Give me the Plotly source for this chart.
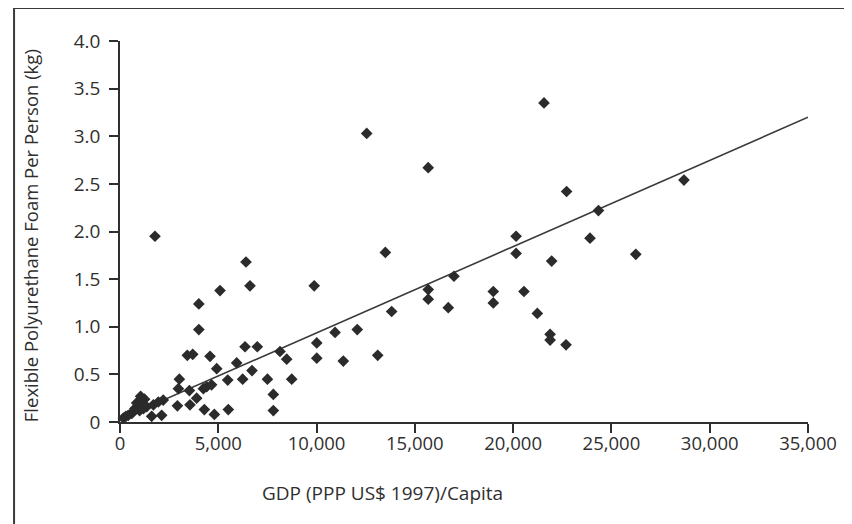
import plotly.graph_objects as go

# GDP per capita (PPP US$ 1997) and flexible PU foam per person (kg)
gdp = [170, 300, 420, 600, 680, 750, 850, 930, 1000, 1050, 1100, 1190, 1250, 1360,
       1610, 1700, 1780, 1950, 2120, 2200,
       2920, 2970, 3020, 3424, 3530, 3560, 3700, 3900, 4010, 4010, 4240, 4290,
       4410, 4580, 4660, 4800, 4920, 5088, 5480, 5510, 5936, 6240, 6360, 6410,
       6613, 6715, 6985, 7500, 7800, 7800, 8140, 8480, 8735, 9880, 10010, 10010,
       10940, 11360, 12070, 12550, 13110, 13500, 13820, 15680, 15680, 15680,
       16700, 16990, 18990, 18990, 20150, 20150, 20550, 21230, 21570, 21880,
       21880, 21960, 22690, 22720, 23910, 24340, 26240, 28690]
foam = [0.04, 0.06, 0.07, 0.09, 0.11, 0.14, 0.20, 0.20, 0.12, 0.27, 0.21, 0.14, 0.24, 0.16,
        0.06, 0.18, 1.95, 0.21, 0.07, 0.23,
        0.17, 0.35, 0.45, 0.70, 0.33, 0.18, 0.71, 0.25, 1.24, 0.97, 0.35, 0.13,
        0.37, 0.69, 0.39, 0.08, 0.56, 1.38, 0.44, 0.13, 0.62, 0.45, 0.79, 1.68,
        1.43, 0.54, 0.79, 0.45, 0.29, 0.12, 0.74, 0.66, 0.45, 1.43, 0.83, 0.67,
        0.94, 0.64, 0.97, 3.03, 0.70, 1.78, 1.16, 2.67, 1.39, 1.29,
        1.20, 1.53, 1.37, 1.25, 1.95, 1.77, 1.37, 1.14, 3.35, 0.92,
        0.86, 1.69, 0.81, 2.42, 1.93, 2.22, 1.76, 2.54]

# Fitted trend line end points
trend_x = [0, 35000]
trend_y = [0.03, 3.20]

x_ticks = [0, 5000, 10000, 15000, 20000, 25000, 30000, 35000]
x_tick_labels = ["0", "5,000", "10,000", "15,000", "20,000", "25,000", "30,000", "35,000"]
y_ticks = [0, 0.5, 1.0, 1.5, 2.0, 2.5, 3.0, 3.5, 4.0]
y_tick_labels = ["0", "0.5", "1.0", "1.5", "2.0", "2.5", "3.0", "3.5", "4.0"]

INK = "#2f2f2f"
FONT = "Open Sans"

fig = go.Figure()
fig.add_trace(go.Scatter(
    x=trend_x, y=trend_y, mode="lines",
    line=dict(color="#3a3a3a", width=1.6), cliponaxis=False, hoverinfo="skip"))
fig.add_trace(go.Scatter(
    x=gdp, y=foam, mode="markers",
    marker=dict(symbol="diamond", size=9, color="#2b2b2b", line=dict(width=0)),
    cliponaxis=False))

fig.update_layout(
    width=852, height=524,
    margin=dict(l=112, r=52, t=33, b=110),
    paper_bgcolor="white", plot_bgcolor="white",
    showlegend=False,
    font=dict(family=FONT, color=INK, size=18),
    xaxis=dict(range=[0, 35000], tickvals=x_ticks, ticktext=x_tick_labels,
               showgrid=False, zeroline=False, showline=True, linecolor=INK, linewidth=1.6,
               ticks="outside", ticklen=9, tickwidth=1.6, tickcolor=INK,
               ticklabelstandoff=-5,
               tickfont=dict(size=18.5, color=INK, family=FONT)),
    yaxis=dict(range=[0, 4.0], tickvals=y_ticks, ticktext=y_tick_labels,
               showgrid=False, zeroline=False, showline=True, linecolor=INK, linewidth=1.6,
               ticks="outside", ticklen=9, tickwidth=1.6, tickcolor=INK,
               ticklabelstandoff=5,
               tickfont=dict(size=19, color=INK, family=FONT)),
    annotations=[
        dict(text="GDP (PPP US$ 1997)/Capita", xref="paper", yref="paper",
             x=0.382, y=-0.186, showarrow=False, xanchor="center", yanchor="middle",
             font=dict(size=19, color=INK, family=FONT)),
        dict(text="Flexible Polyurethane Foam Per Person (kg)", xref="paper", yref="paper",
             x=-0.131, y=0.49, showarrow=False, textangle=-90,
             xanchor="center", yanchor="middle",
             font=dict(size=18.5, color=INK, family=FONT)),
    ],
    shapes=[
        dict(type="rect", xref="paper", yref="paper",
             x0=-0.154, x1=1.08, y0=-0.3, y1=1.0866,
             line=dict(color="#3a3a3a", width=2), layer="below"),
    ],
)

fig.write_html("out.html")
